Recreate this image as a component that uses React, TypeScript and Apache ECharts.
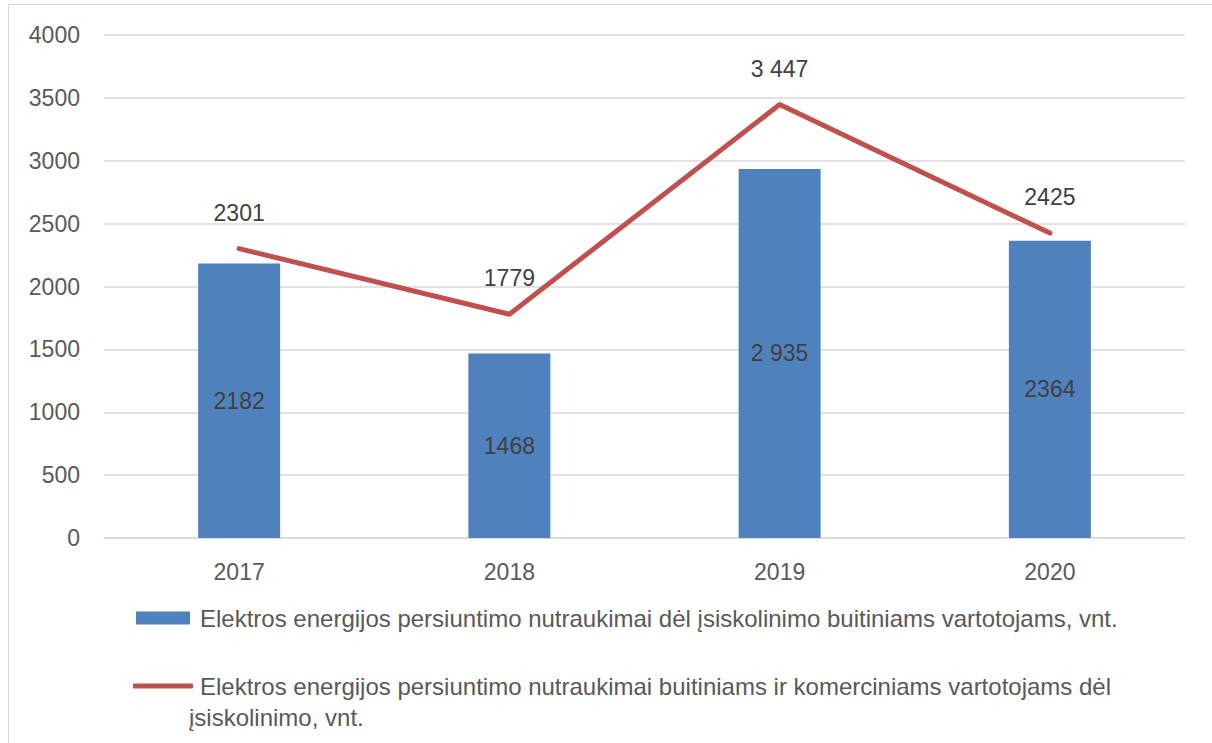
import React, { useEffect, useRef } from "react";
import * as echarts from "echarts";

const categories = ["2017", "2018", "2019", "2020"];
const barValues = [2182, 1468, 2935, 2364];
const barLabels = ["2182", "1468", "2 935", "2364"];
const lineValues = [2301, 1779, 3447, 2425];
const lineLabels = ["2301", "1779", "3 447", "2425"];
const barName =
  "Elektros energijos persiuntimo nutraukimai dėl įsiskolinimo buitiniams vartotojams, vnt.";
const lineName =
  "Elektros energijos persiuntimo nutraukimai buitiniams ir komerciniams vartotojams dėl įsiskolinimo, vnt.";
const lineNameFirst =
  "Elektros energijos persiuntimo nutraukimai buitiniams ir komerciniams vartotojams dėl";
const lineNameSecond = "įsiskolinimo, vnt.";

const FONT = "'Liberation Sans', Arial, sans-serif";

export default function App() {
  const ref = useRef<HTMLDivElement>(null);
  useEffect(() => {
    if (!ref.current) return;
    const chart = echarts.init(ref.current, undefined, { renderer: "svg" });
    chart.setOption({
      animation: false,
      backgroundColor: "#ffffff",
      textStyle: { fontFamily: FONT },
      grid: { left: 104, right: 27, top: 35, bottom: 205, containLabel: false },
      xAxis: {
        type: "category",
        data: categories,
        axisTick: { show: false },
        axisLine: { lineStyle: { color: "#d9d9d9", width: 1.5 } },
        axisLabel: { color: "#595959", fontSize: 23, margin: 22, fontFamily: FONT },
      },
      yAxis: {
        type: "value",
        min: 0,
        max: 4000,
        interval: 500,
        axisLine: { show: false },
        axisTick: { show: false },
        axisLabel: {
          color: "#595959",
          fontSize: 23,
          margin: 24,
          fontFamily: FONT,
          formatter: (v: number) => String(v),
        },
        splitLine: { lineStyle: { color: "#d9d9d9", width: 1.5 } },
      },
      legend: [
        {
          data: [{ name: barName, icon: "rect" }],
          left: 136,
          top: 606,
          padding: 0,
          itemWidth: 54,
          itemHeight: 13,
          selectedMode: false,
          textStyle: { color: "#595959", fontSize: 24, fontFamily: FONT, padding: [0, 0, 0, 5] },
        },
        {
          data: [{ name: lineName, icon: "roundRect" }],
          left: 133,
          top: 674,
          padding: 0,
          itemWidth: 60,
          itemHeight: 5,
          selectedMode: false,
          formatter: () => lineNameFirst,
          textStyle: { color: "#595959", fontSize: 24, fontFamily: FONT, padding: [0, 0, 0, 2] },
        },
      ],
      graphic: [
        {
          type: "rect",
          shape: { x: 8.5, y: 4.5, width: 1300, height: 800 },
          style: { fill: "none", stroke: "#d9d9d9", lineWidth: 1 },
          silent: true,
        },
        {
          type: "text",
          x: 189,
          y: 717,
          style: {
            text: lineNameSecond,
            fill: "#595959",
            fontSize: 24,
            fontFamily: FONT,
            verticalAlign: "middle",
            align: "left",
          },
        },
      ],
      series: [
        {
          name: barName,
          type: "bar",
          data: barValues,
          barWidth: 82,
          itemStyle: { color: "#4f81bd" },
          label: {
            show: true,
            position: "inside",
            color: "#404040",
            fontSize: 23,
            fontFamily: FONT,
            formatter: (p: any) => barLabels[p.dataIndex],
          },
        },
        {
          name: lineName,
          type: "line",
          data: lineValues,
          symbol: "circle",
          symbolSize: 1,
          showSymbol: true,
          itemStyle: { color: "#c0504d" },
          lineStyle: { color: "#c0504d", width: 5, cap: "round", join: "round" },
          label: {
            show: true,
            position: "top",
            distance: 24,
            color: "#404040",
            fontSize: 23,
            fontFamily: FONT,
            formatter: (p: any) => lineLabels[p.dataIndex],
          },
        },
      ],
    });
    return () => chart.dispose();
  }, []);
  return (
    <div
      ref={ref}
      style={{ position: "fixed", left: 0, top: 0, width: 1212, height: 743 }}
    />
  );
}
